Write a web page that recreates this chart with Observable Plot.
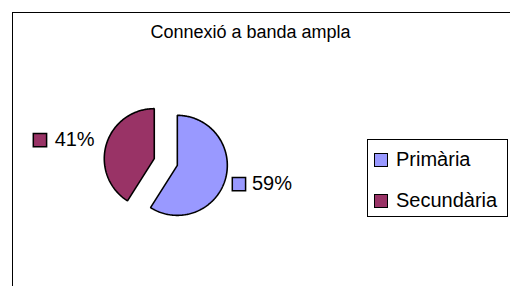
<!DOCTYPE html>
<html>
<head>
<meta charset="utf-8">
<script src="https://cdn.jsdelivr.net/npm/d3@7"></script>
<script src="https://cdn.jsdelivr.net/npm/@observablehq/plot@0.6"></script>
<style>
  html, body { margin: 0; padding: 0; width: 510px; height: 286px; overflow: hidden; background: #fff; }
  body { font-family: "Liberation Sans", Arial, sans-serif; }
  #wrap { position: relative; width: 510px; height: 286px; overflow: hidden; }
  #frame { position: absolute; left: 12px; top: 12px; width: 700px; height: 500px; border: 1px solid #000; }
  #chart { position: absolute; left: 0; top: 0; }
  #legend { position: absolute; left: 367px; top: 139px; width: 141px; height: 78px; border: 1px solid #000; box-sizing: border-box; background: #fff; }
  .sw { position: absolute; width: 14px; height: 14px; border: 1.5px solid #000; box-sizing: border-box; }
  .lt { position: absolute; font-size: 20px; line-height: 20px; color: #000; white-space: nowrap; }
</style>
</head>
<body>
<div id="wrap">
  <div id="frame"></div>
  <div id="chart"></div>
  <div id="legend"></div>
</div>
<script>
// ---- data ----
const title = "Connexió a banda ampla";
const categories = ["Primària", "Secundària"];
const values = [59, 41];
const labels = ["59%", "41%"];
const colors = ["#9999FF", "#993366"];

// ---- geometry (derived from values) ----
const explode = 0.24;          // slice offset as a fraction of the radius
const total = d3.sum(values);
const slices = [];
const labelRows = [];
let acc = 0;
values.forEach((v, i) => {
  const a0 = acc / total * 2 * Math.PI;
  acc += v;
  const a1 = acc / total * 2 * Math.PI;
  const mid = (a0 + a1) / 2;
  const ox = explode * Math.sin(mid), oy = explode * Math.cos(mid);
  const n = Math.ceil((a1 - a0) / (Math.PI / 180));
  slices.push({cat: categories[i], x: ox, y: oy});
  for (let k = 0; k <= n; k++) {
    const a = a0 + (a1 - a0) * k / n;
    slices.push({cat: categories[i], x: ox + Math.sin(a), y: oy + Math.cos(a)});
  }
  slices.push({cat: categories[i], x: ox, y: oy});
  const kLab = 1.2;
  labelRows.push({
    cat: categories[i], label: labels[i],
    x: ox + kLab * Math.sin(mid), y: oy + kLab * Math.cos(mid),
    side: Math.sin(mid) >= 0 ? 1 : -1
  });
});
const right = labelRows.filter(d => d.side > 0);
const left = labelRows.filter(d => d.side < 0);

const cx = 165.3, cy = 161.5, R = 50;
const font = "Liberation Sans, Arial, sans-serif";

const chart = Plot.plot({
  width: 510,
  height: 286,
  margin: 0,
  style: {background: "transparent", fontFamily: font},
  x: {axis: null, domain: [-1, 1], range: [cx - R, cx + R]},
  y: {axis: null, domain: [-1, 1], range: [cy + R, cy - R]},
  color: {domain: categories, range: colors},
  marks: [
    Plot.text([title], {text: d => d, frameAnchor: "top", lineAnchor: "top", dx: -5, dy: 25, fontSize: 18, fill: "#000", fontFamily: font}),
    Plot.line(slices, {x: "x", y: "y", z: "cat", fill: "cat", stroke: "#000", strokeWidth: 1.6, strokeLinejoin: "miter", curve: "linear"}),
    Plot.dot(right, {x: "x", y: "y", symbol: "square", r: 7.5, fill: "cat", stroke: "#000", strokeWidth: 1.5, dx: 4, dy: 2}),
    Plot.text(right, {x: "x", y: "y", text: "label", textAnchor: "start", lineAnchor: "middle", dx: 17, dy: 1.3, fontSize: 20, fill: "#000", fontFamily: font}),
    Plot.dot(left, {x: "x", y: "y", symbol: "square", r: 7.5, fill: "cat", stroke: "#000", strokeWidth: 1.5, dx: -56.7, dy: -1.7}),
    Plot.text(left, {x: "x", y: "y", text: "label", textAnchor: "end", lineAnchor: "middle", dx: -2, dy: -2.8, fontSize: 20, fill: "#000", fontFamily: font})
  ]
});
document.getElementById("chart").appendChild(chart);

// ---- legend ----
const legend = document.getElementById("legend");
categories.forEach((c, i) => {
  const sw = document.createElement("div");
  sw.className = "sw";
  sw.style.left = "6px";
  sw.style.top = (13 + i * 41) + "px";
  sw.style.background = colors[i];
  legend.appendChild(sw);
  const t = document.createElement("div");
  t.className = "lt";
  t.style.left = "28px";
  t.style.top = (8.8 + i * 41) + "px";
  t.textContent = c;
  legend.appendChild(t);
});
</script>
</body>
</html>
